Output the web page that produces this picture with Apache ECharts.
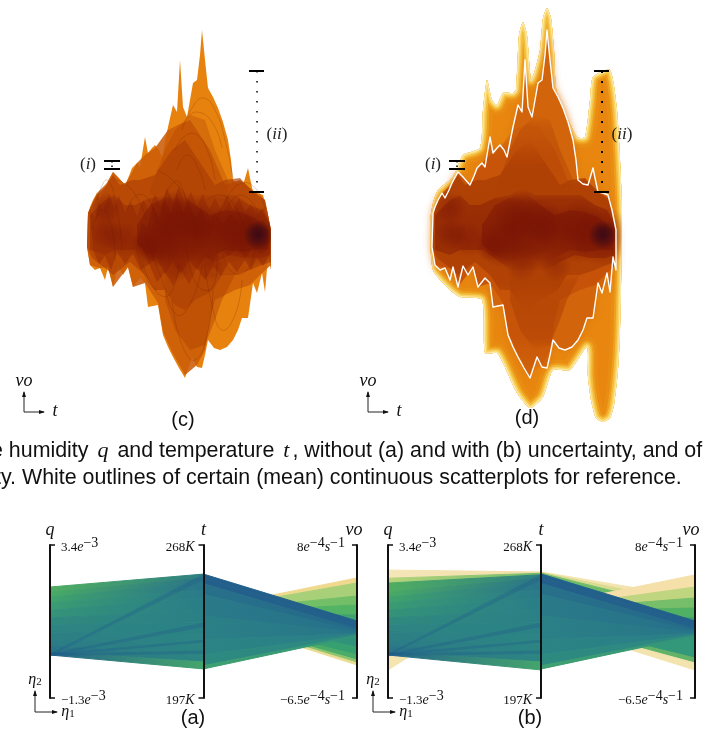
<!DOCTYPE html>
<html><head><meta charset="utf-8">
<style>html,body{margin:0;padding:0;background:#fff}#c{width:728px;height:732px}</style>
<script src="https://cdn.jsdelivr.net/npm/echarts@6/dist/echarts.min.js"></script>
</head><body><div id="c"></div>
<script>
/* ---------- continuous scatterplots (t steps, vo units) ---------- */
const meanOutline=[[1,27],[3,33],[6,40],[10,47],[13,42],[17,50],[20,57],[26,68],[31,63],[38,55],[42,64],[45,72],[50,77],[53,73],[58,103],[61,87],[65,92],[68,95],[72,90],[75,83],[81,113],[86,135],[90,128],[93,180],[96,133],[100,123],[103,140],[106,157],[110,160],[113,185],[115,210],[118,180],[121,152],[126,143],[131,132],[136,118],[141,100],[144,80],[146,60],[151,56],[156,55],[161,72],[163,62],[166,48],[171,47],[176,45],[180,30],[184,10],[184,-30],[181,-17],[178,-52],[175,-33],[170,-53],[166,-43],[161,-78],[155,-78],[151,-90],[146,-100],[140,-107],[133,-110],[127,-108],[121,-100],[118,-115],[115,-128],[110,-127],[105,-117],[98,-138],[92,-128],[86,-117],[81,-107],[76,-95],[71,-65],[66,-66],[61,-67],[58,-43],[53,-38],[46,-47],[41,-27],[36,-35],[31,-26],[26,-47],[21,-27],[18,-40],[13,-28],[8,-30],[3,-25],[0,-7]];
const uncertainEnvelope=[[-2,17],[1,37],[6,50],[21,63],[31,85],[48,92],[51,130],[55,160],[60,140],[65,135],[71,147],[81,147],[84,150],[87,205],[91,218],[95,205],[99,160],[103,170],[108,190],[111,222],[115,232],[119,222],[122,190],[125,147],[145,103],[153,103],[158,140],[161,163],[178,170],[185,130],[190,30],[188,-93],[186,-130],[182,-165],[178,-178],[171,-182],[164,-178],[159,-160],[156,-137],[155,-107],[138,-130],[121,-130],[111,-157],[98,-168],[85,-153],[71,-123],[65,-113],[53,-113],[50,-60],[28,-57],[18,-50],[1,-30]];
const ridgeLayer=[[1,27],[10,47],[20,57],[26,68],[38,55],[50,77],[58,85],[68,92],[81,110],[91,115],[103,120],[113,105],[123,90],[138,55],[153,60],[168,48],[178,40],[184,10],[184,-25],[173,-35],[163,-45],[148,-50],[128,-60],[123,-80],[118,-110],[110,-125],[98,-135],[85,-112],[76,-92],[71,-63],[58,-43],[46,-47],[41,-27],[26,-47],[21,-27],[13,-28],[3,-25],[0,-7]];
const upperMid=[[63,50],[78,90],[88,110],[103,125],[118,120],[128,90],[141,60],[141,45],[63,45]];
const lowerMid=[[78,-30],[148,-35],[135,-60],[128,-80],[118,-105],[103,-110],[88,-90],[78,-60]];
const densityA=[[1,27],[10,45],[20,55],[26,65],[33,55],[45,60],[53,60],[68,65],[78,80],[85,90],[98,100],[108,85],[118,70],[128,55],[138,60],[153,62],[166,48],[178,40],[184,10],[184,-22],[175,-25],[163,-30],[148,-35],[135,-35],[126,-50],[118,-55],[108,-60],[98,-70],[88,-65],[78,-50],[68,-50],[58,-35],[43,-22],[26,-35],[18,-28],[5,-18],[0,-7]];
const zigzagOuter=[[3,30],[8,22],[12,38],[16,28],[22,46],[27,32],[32,44],[38,28],[44,38],[50,24],[56,40],[62,30],[68,46],[74,34],[80,52],[86,38],[92,54],[98,36],[104,48],[110,34],[116,46],[122,30],[128,42],[134,30],[140,44],[146,30],[152,42],[158,28],[164,36],[170,26],[176,32],[183,14],[183,-14],[176,-26],[170,-18],[164,-30],[158,-20],[150,-32],[142,-22],[134,-36],[126,-26],[118,-40],[110,-28],[102,-44],[94,-30],[86,-46],[78,-32],[70,-42],[62,-24],[54,-30],[46,-14],[38,-24],[30,-12],[24,-30],[18,-16],[12,-24],[6,-10]];
const zigzagInner=[[50,-2],[55,18],[60,12],[66,34],[72,22],[78,40],[84,26],[90,46],[96,28],[102,38],[108,22],[114,32],[120,18],[128,26],[136,16],[144,26],[152,14],[160,24],[168,16],[176,20],[182,8],[182,-8],[174,-14],[166,-8],[158,-18],[150,-8],[142,-16],[134,-10],[126,-22],[118,-16],[110,-30],[102,-20],[94,-34],[86,-22],[78,-34],[70,-18],[62,-24],[56,-10]];
const densityB=[[3,25],[18,40],[28,45],[38,35],[48,35],[63,42],[78,45],[91,52],[103,45],[118,45],[133,45],[148,45],[163,35],[175,30],[183,15],[183,-15],[173,-18],[158,-18],[143,-15],[128,-22],[118,-28],[108,-32],[93,-30],[78,-30],[68,-22],[58,-15],[51,-10],[43,-10],[28,-10],[18,-15],[3,-10]];
const densityC=[[50,15],[63,35],[83,45],[93,48],[108,35],[123,25],[138,30],[153,28],[168,22],[181,10],[181,-10],[168,-10],[153,-12],[138,-10],[123,-18],[108,-22],[93,-18],[78,-22],[63,-15],[50,-5]];
/* [t, vo, radius, strength] */
const darkBlobs=[[170,4,30,.55],[148,16,24,.5],[122,12,24,.4],[96,10,30,.45],[70,-4,24,.5],[58,-6,16,.4],[82,22,22,.4],[108,20,22,.35],[18,32,16,.4],[20,6,16,.4],[36,0,18,.3],[90,-26,16,.3],[124,-26,16,.3],[146,-4,20,.3]];
const coreBlobs=[[171,5,15,.95],[171,7,8,.6]];
const arcs=[[[95,110],[105,132],[116,142],[128,130],[138,100],[146,62]],[[100,122],[110,128],[125,118],[135,92]],[[88,90],[98,104],[110,105],[122,85],[128,60]],[[130,20],[140,42],[155,57],[170,50],[178,30]],[[118,-25],[125,-65],[135,-90],[148,-75],[155,-40]],[[85,-60],[95,-105],[108,-120],[120,-95],[126,-50]],[[60,0],[75,-40],[90,-75],[105,-60],[115,-25]],[[30,60],[45,50],[60,20]],[[10,40],[20,60],[30,30],[35,-10]],[[50,-10],[60,-40],[70,-50]],[[70,70],[85,60],[100,40],[110,0]],[[120,40],[135,45],[150,30],[160,0]],[[40,30],[50,45],[62,40],[70,15]],[[75,30],[82,52],[92,58],[100,30]],[[140,30],[150,44],[165,38],[172,18]],[[55,-20],[68,-50],[82,-55],[92,-25]],[[100,-10],[110,-45],[125,-48],[130,-15]],[[135,-10],[145,-32],[160,-30],[168,-8]],[[5,10],[15,30],[24,15],[28,-20]],[[90,70],[100,85],[112,70],[118,50]]];
const markerI=[[[17,79],[33,79]],[[17,71],[33,71]]];
const markerII=[[[162,169],[177,169]],[[162,48],[177,48]]];
const dotsI=[[25,79],[25,71]], dotsII=[[170,169],[170,48]];

/* ---------- parallel coordinates: strips between axes, real units ---------- */
const qRange=[-1.3,3.4], tRange=[197,268], voRange=[-6.5,8];
const qTickLabels=['{m|−1.3}{i|e}{s|−3}','{m|3.4}{i|e}{s|−3}'];
const tTickLabels=['{m|197}{i|K}','{m|268}{i|K}'];
const voTickLabels=['{m|−6.5}{i|e}{s|−4}{i|s}{s|−1}','{m|8}{i|e}{s|−4}{i|s}{s|−1}'];
/* [q1,q2,t1,t2] */
const qtStripsA=[[2.11,1.95,254.5,252.7],[1.95,1.80,252.7,250.8],[1.80,1.62,250.8,247.1],[1.62,1.40,247.1,243.4],[1.40,1.16,243.4,237.8],[1.16,.94,237.8,232.3],[.94,.73,232.3,226.2],[.73,.48,226.2,221.6],[.48,.30,221.6,217],[.30,.11,217,213.7],[.11,.02,213.7,210.5]];
const qtStripsB=[[2.23,1.95,254.2,252.7],[1.95,1.80,252.7,250.8],[1.80,1.62,250.8,247.1],[1.62,1.40,247.1,243.4],[1.40,1.16,243.4,237.8],[1.16,.94,237.8,232.3],[.94,.73,232.3,226.2],[.73,.48,226.2,221.6],[.48,.30,221.6,217],[.30,.11,217,213.7],[.11,.02,213.7,210]];
const qtOverlay=[[.06,-.01,254.5,252],[.06,-.01,232,230],[.06,-.01,219,217.5],[.06,-.01,224,222.8]];
const qtPaleB=[[2.63,2.38,255.5,254.9],[2.38,2.23,254.9,254.2]];
const qtWedgeB=[[.02,-.44,254,255.5]];
/* [t1,t2,vo1,vo2] */
const tvFanA=[[238.3,237.9,4.88,4.40],[237.9,237,4.40,3.17],[237,236.5,3.17,2.32],[236.5,236,2.32,1.37],[236,235.6,1.37,.42],[235.6,235.3,.42,-.62],[235.3,235,-.62,-1.67],[235,235,-1.67,-2.42],[235,235,-2.42,-2.9],[235,235,-2.9,-3.18],[235,235,-3.18,-3.37]];
const tvFanB=[[239.7,238.6,5.16,4.02],[238.6,237.8,4.02,2.98],[237.8,237,2.98,2.03],[237,236.4,2.03,1.08],[236.4,236,1.08,.42],[236,235,.42,-.72],[235,233,-.72,-2.71],[233,232.6,-2.71,-3.18],[232.6,232.3,-3.18,-3.85]];
const tvPaleB=[[255.5,255.2,2.98,2.4],[255.2,254.9,2.4,1.7],[254.9,254.5,1.7,.8]];
const tvMain=[[254.5,252.7,.80,.45],[252.7,250,.45,.05],[250,245,.05,-.15],[245,235,-.15,-.28],[235,224,-.28,-.38],[224,217,-.38,-.48],[217,212,-.48,-.57],[212,210.5,-.57,-.62]];
/* colours for those strips */
const qtColors=[['#4FAE62','#2E7F82'],['#49AA65','#2A7488'],['#40A36C','#29748A'],['#3A9C72','#2A7A89'],['#349378','#2A7E88'],['#30897E','#2B8086'],['#2D8482','#2B8285'],['#2C8084','#2C8484'],['#2B7C86','#2C8483'],['#2A7488','#2D8682'],['#24668A','#45A56C']];
const tvFanColA=['#EFD98F','#A8D078','#72BF68','#52B364','#3EA36F','#2E8C7E','#2F9279','#37A070','#4AAC68','#8FC46F','#EBDD93'];
const tvFanColB=['#F4E0A8','#BFD580','#76BE69','#50B063','#3C9F70','#2E8C7E','#33977A','#62B268','#F3E3AE'];
const tvPaleColB=['#F4E4B0','#D8DB90','#6FBC68'];
const tvMainCol=[['#235F8B','#235F8B'],['#245F8B','#22618B'],['#28708A','#256A8A'],['#2A7A89','#26708A'],['#2B8086','#28758A'],['#2B8484','#2A7E88'],['#2D8A80','#2D8882'],['#3FA070','#32937A']];

const C={smoke:'#E8820F',ridge:'#CB5C08',a:[172,62,4],b:[142,36,5],c:[116,16,5],d:[62,10,20]};
const rgba=(c,a)=>`rgba(${c[0]},${c[1]},${c[2]},${a})`;
const fade=(c,a)=>({type:'linear',x:0,y:0,x2:0,y2:1,colorStops:[{offset:0,color:rgba(c,0)},{offset:.15,color:rgba(c,a*.8)},{offset:.5,color:rgba(c,a)},{offset:.85,color:rgba(c,a*.8)},{offset:1,color:rgba(c,0)}]});

function poly(name,pts,g,style){
  return {type:'custom',name,xAxisIndex:g,yAxisIndex:g,data:pts,silent:true,animation:false,clip:false,encode:{x:0,y:1},
    renderItem(p,api){ if(p.dataIndex!==0) return null;
      return {type:'polygon',shape:{points:pts.map(q=>api.coord(q))},style:Object.assign({},style)};}};
}
function line(name,pts,g,style,smooth){
  return {type:'custom',name,xAxisIndex:g,yAxisIndex:g,data:pts,silent:true,animation:false,clip:false,encode:{x:0,y:1},z:smooth===undefined?8:4,
    renderItem(p,api){ if(p.dataIndex!==0) return null;
      return {type:'polyline',shape:{points:pts.map(q=>api.coord(q)),smooth:smooth||0},style:Object.assign({fill:'none'},style)};}};
}
function blobs(name,rows,g,col,clipPts){
  return {type:'custom',name,xAxisIndex:g,yAxisIndex:g,data:rows,silent:true,animation:false,clip:false,encode:{x:0,y:1},
    renderItem(p,api){ if(p.dataIndex!==0) return null;
      return {type:'group',clipPath:{type:'polygon',shape:{points:clipPts.map(q=>api.coord(q))}},
        children:rows.map(r=>{const c=api.coord([r[0],r[1]]),rr=api.size([r[2],0])[0];
          return {type:'circle',shape:{cx:c[0],cy:c[1],r:rr},style:{fill:{type:'radial',x:.5,y:.5,r:.5,colorStops:[{offset:0,color:rgba(col,r[3])},{offset:.55,color:rgba(col,r[3]*.6)},{offset:1,color:rgba(col,0)}]}}};})};}};
}
function rim(name,pts,g,layers){
  return {type:'custom',name,xAxisIndex:g,yAxisIndex:g,data:pts,silent:true,animation:false,clip:false,encode:{x:0,y:1},
    renderItem(p,api){ if(p.dataIndex!==0) return null;
      const P=pts.map(q=>api.coord(q));
      return {type:'group',clipPath:{type:'polygon',shape:{points:P,smooth:.2}},
        children:layers.map(l=>({type:'polygon',shape:{points:P,smooth:.2},style:{fill:l[2]||'none',stroke:l[0],lineWidth:l[1],lineJoin:'round'}}))};}};
}
function strip(name,rows,colors,rangeL,rangeR,xL,xR,g,op){
  const nL=v=>(v-rangeL[0])/(rangeL[1]-rangeL[0])*100, nR=v=>(v-rangeR[0])/(rangeR[1]-rangeR[0])*100;
  return {type:'custom',name,xAxisIndex:g,yAxisIndex:g,data:rows,silent:true,animation:false,clip:false,encode:{x:[],y:[]},
    renderItem(p,api){ const r=rows[p.dataIndex]; const c=colors[p.dataIndex%colors.length];
      const P=[api.coord([xL,nL(r[0])]),api.coord([xR,nR(r[2])]),api.coord([xR,nR(r[3])]),api.coord([xL,nL(r[1])])];
      const fill=Array.isArray(c)?{type:'linear',x:0,y:0,x2:1,y2:0,colorStops:[{offset:0,color:c[0]},{offset:1,color:c[1]}]}:c;
      return {type:'polygon',shape:{points:P},style:{fill,stroke:fill,lineWidth:op?0:1,opacity:op||1}};}};
}
const series=[];
/* panel (c) */
series.push(poly('mean outline (c)',meanOutline,0,{fill:C.smoke}));
series.push(poly('ridge (c)',ridgeLayer,0,{fill:C.ridge,opacity:.88}));
series.push(poly('upper mid (c)',upperMid,0,{fill:rgba(C.a,.3)}));
series.push(poly('lower mid (c)',lowerMid,0,{fill:rgba(C.a,.42)}));
series.push(poly('density A (c)',densityA,0,{fill:rgba(C.a,.66)}));
series.push(poly('zigzag outer (c)',zigzagOuter,0,{fill:rgba(C.b,.42)}));
series.push(poly('density B (c)',densityB,0,{fill:fade(C.b,.5)}));
series.push(poly('zigzag inner (c)',zigzagInner,0,{fill:rgba(C.c,.25)}));
series.push(poly('density C (c)',densityC,0,{fill:fade(C.c,.42)}));
series.push(blobs('dark (c)',darkBlobs,0,C.c,meanOutline));
series.push(blobs('core (c)',coreBlobs,0,C.d,meanOutline));
arcs.forEach((a,i)=>series.push(line('arc'+i,a,0,{stroke:'rgba(95,25,0,.2)',lineWidth:1},.5)));
markerI.concat(markerII).forEach((m,i)=>series.push(line('mc'+i,m,0,{stroke:'#000',lineWidth:2})));
series.push(line('dots i c',dotsI,0,{stroke:'#000',lineWidth:1.5,lineDash:[1.5,3]}));
series.push(line('dots ii c',dotsII,0,{stroke:'#000',lineWidth:1.5,lineDash:[1.5,8.5]}));
/* panel (d) */
series.push(rim('envelope',uncertainEnvelope,1,[['#E98C12',20,'#E8860F'],['#EE9F1E',13],['#F4BC3C',9],['#F8D566',5.5],['#FCEBB0',2.5]]));
series.push(poly('mean fill (d)',meanOutline,1,{fill:'#D2640B',shadowBlur:9,shadowColor:'#DC740C'}));
series.push(poly('ridge (d)',ridgeLayer,1,{fill:fade([196,80,8],.95)}));
series.push(poly('upper mid (d)',upperMid,1,{fill:fade(C.a,.4)}));
series.push(poly('lower mid (d)',lowerMid,1,{fill:fade(C.a,.55)}));
series.push(poly('density A (d)',densityA,1,{fill:fade(C.a,.95)}));
series.push(poly('density B (d)',densityB,1,{fill:fade(C.b,.75)}));
series.push(poly('density C (d)',densityC,1,{fill:fade(C.c,.45)}));
series.push(blobs('dark (d)',darkBlobs,1,C.c,uncertainEnvelope));
series.push(blobs('core (d)',coreBlobs,1,C.d,uncertainEnvelope));
series.push(line('mean outline (d)',meanOutline.concat([meanOutline[0]]),1,{stroke:'#fff',lineWidth:1.4,lineJoin:'round'}));
markerI.concat(markerII).forEach((m,i)=>series.push(line('md'+i,m,1,{stroke:'#000',lineWidth:2})));
series.push(line('dots i d',dotsI,1,{stroke:'#000',lineWidth:1.5,lineDash:[1.5,3]}));
series.push(line('dots ii d',dotsII,1,{stroke:'#000',lineWidth:2,lineDash:[2,8]}));
/* panel (a) */
series.push(strip('t-vo fan a',tvFanA,tvFanColA,tRange,voRange,1,2,2));
series.push(strip('q-t a',qtStripsA,qtColors,qRange,tRange,0,1,2));
series.push(strip('q-t overlay a',qtOverlay,['#1F5B8C'],qRange,tRange,0,1,2,.3));
series.push(strip('t-vo main a',tvMain,tvMainCol,tRange,voRange,1,2,2));
/* panel (b) */
series.push(strip('q-t wedge b',qtWedgeB,['#F4E4B0'],qRange,tRange,0,1,3));
series.push(strip('q-t pale b',qtPaleB,[['#F5E6B8','#F2DFA8'],['#B7D47D','#6FBA68']],qRange,tRange,0,1,3));
series.push(strip('q-t b',qtStripsB,qtColors,qRange,tRange,0,1,3));
series.push(strip('q-t overlay b',qtOverlay,['#1F5B8C'],qRange,tRange,0,1,3,.3));
series.push(strip('t-vo pale b',tvPaleB,tvPaleColB,tRange,voRange,1,2,3));
series.push(strip('t-vo fan b',tvFanB,tvFanColB,tRange,voRange,1,2,3));
series.push(strip('t-vo main b',tvMain,tvMainCol,tRange,voRange,1,2,3));

const rich={m:{fontFamily:'Liberation Serif',fontSize:13,color:'#111',lineHeight:18,verticalAlign:'bottom'},
  i:{fontFamily:'Liberation Serif',fontStyle:'italic',fontSize:14,color:'#111',lineHeight:18,verticalAlign:'bottom'},
  s:{fontFamily:'Liberation Serif',fontSize:14,color:'#111',lineHeight:18,verticalAlign:'top'}};
function visAxis(g,range,labels,position,offset,inside,margin){
  return {type:'value',gridIndex:g,min:range[0],max:range[1],position,offset,silent:true,z:10,
    splitLine:{show:false},axisLine:{show:true,onZero:false,lineStyle:{color:'#111',width:2}},
    axisTick:{show:true,inside,length:5,customValues:range,lineStyle:{color:'#111',width:1.5}},
    axisLabel:{show:true,inside,margin,customValues:range,showMinLabel:true,showMaxLabel:true,
      formatter:v=>v===range[1]?labels[1]:labels[0],rich}};
}
const hiddenX=(g,min,max)=>({type:'value',gridIndex:g,min,max,show:false});
const hiddenY=(g,min,max)=>({type:'value',gridIndex:g,min,max,show:false});
const option={animation:false,backgroundColor:'#fff',
  grid:[{left:67,top:0,width:240,height:432},{left:412,top:0,width:240,height:432},
        {left:50,top:545,width:307,height:153},{left:388,top:545,width:307,height:153}],
  xAxis:[hiddenX(0,-20,220),hiddenX(1,-20,220),hiddenX(2,0,2),hiddenX(3,0,2)],
  yAxis:[hiddenY(0,-192,240),hiddenY(1,-192,240),hiddenY(2,0,100),hiddenY(3,0,100),
    visAxis(2,qRange,qTickLabels,'left',0,true,11),visAxis(2,tRange,tTickLabels,'left',-153.5,false,9),visAxis(2,voRange,voTickLabels,'right',0,true,12),
    visAxis(3,qRange,qTickLabels,'left',0,true,11),visAxis(3,tRange,tTickLabels,'left',-153,false,9),visAxis(3,voRange,voTickLabels,'right',0,true,12)],
  series,
  graphic:{elements:[]}
};
/* real-text annotations */
const G=option.graphic.elements;
const serif='Liberation Serif', sans='Liberation Sans';
function txt(x,y,text,o){G.push({type:'text',x,y,z:20,silent:true,style:Object.assign({text,fill:'#111',font:'italic 17px "'+serif+'"',textAlign:'center',textVerticalAlign:'middle'},o||{})});}
function arrow(x,y,up,right){
  G.push({type:'polyline',z:20,silent:true,shape:{points:[[x,y-up],[x,y],[x+right,y]]},style:{stroke:'#222',lineWidth:1,fill:'none'}});
  G.push({type:'polygon',z:20,silent:true,shape:{points:[[x-2,y-up+5],[x,y-up-1],[x+2,y-up+5]]},style:{fill:'#111'}});
  G.push({type:'polygon',z:20,silent:true,shape:{points:[[x+right-5,y-2],[x+right+1,y],[x+right-5,y+2]]},style:{fill:'#111'}});
}
const par={rich:{p:{font:'17px "'+serif+'"',fill:'#222'},v:{font:'italic 17px "'+serif+'"',fill:'#222'}}};
[0,345].forEach((dx,k)=>{
  txt(88+dx,165,'{p|(}{v|i}{p|)}',{rich:par.rich});
  txt(277+dx,135,'{p|(}{v|ii}{p|)}',{rich:par.rich});
  txt(24+dx-(k?1:0),381,'vo',{font:'italic 18px "'+serif+'"'});
  txt(55+dx-(k?1:0),411,'t',{font:'italic 18px "'+serif+'"'});
  arrow(24+dx-(k?1:0),412,20,20);
});
txt(183,420,'(c)',{font:'20px "'+sans+'"'});
txt(527,418,'(d)',{font:'20px "'+sans+'"'});
[[50,203.5,354],[388,541,691]].forEach(a=>{
  txt(a[0],530,'q',{font:'italic 18px "'+serif+'"'});
  txt(a[1],530,'t',{font:'italic 18px "'+serif+'"'});
  txt(a[2],530,'vo',{font:'italic 18px "'+serif+'"'});
});
const eta={rich:{e:{font:'italic 16px "'+serif+'"',fill:'#111'},n:{font:'11px "'+serif+'"',fill:'#111',verticalAlign:'bottom',lineHeight:12}}};
[[35,193],[373,530]].forEach(a=>{
  arrow(a[0],712,21,22);
  txt(a[0]+0,680,'{e|η}{n|2}',{rich:eta.rich});
  txt(a[0]+33,712,'{e|η}{n|1}',{rich:eta.rich});
});
txt(193,718,'(a)',{font:'20px "'+sans+'"'});
txt(530,718,'(b)',{font:'20px "'+sans+'"'});
const capRich={rich:{t:{font:'21.4px "'+sans+'"',fill:'#111'},m:{font:'italic 22px "'+serif+'"',fill:'#111',padding:[0,3,0,3]}}};
txt(-9,451,'{t|e humidity }{m|q}{t| and temperature }{m|t}{t|, without (a) and with (b) uncertainty, and of}',{rich:capRich.rich,textAlign:'left'});
txt(-5,478,'{t|ty. White outlines of certain (mean) continuous scatterplots for reference.}',{rich:capRich.rich,textAlign:'left'});

echarts.init(document.getElementById('c'),null,{renderer:'canvas'}).setOption(option);
</script></body></html>
